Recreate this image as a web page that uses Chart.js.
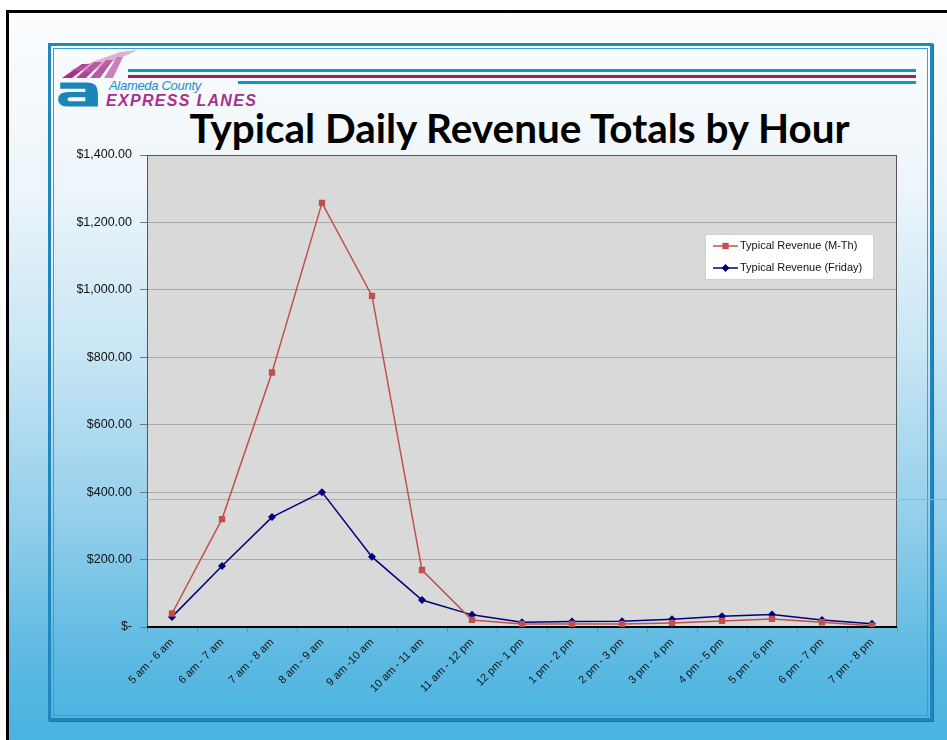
<!DOCTYPE html>
<html>
<head>
<meta charset="utf-8">
<script src="https://cdn.jsdelivr.net/npm/chart.js@4.4.1/dist/chart.umd.min.js"></script>
<style>
  html, body { margin: 0; padding: 0; }
  body { width: 947px; height: 740px; position: relative; overflow: hidden; background: #fff; font-family: "Liberation Sans", Arial, sans-serif; }
  #slide { position: absolute; left: 6px; top: 10px; width: 960px; height: 760px; border-left: 3px solid #000; border-top: 3px solid #000;
    background: linear-gradient(to bottom, #fbfdfe 0%, #eef6fb 22%, #c7e5f4 45%, #8fcdea 68%, #5cb9e2 85%, #3fb1df 100%); }
  #frame { position: absolute; left: 48px; top: 43px; width: 879px; height: 672px; border: 3px solid #1f86c0; box-shadow: 1px 1px 0 #1a75aa; }
  #frame::after { content: ""; position: absolute; left: 2px; top: 2px; right: 2px; bottom: 2px; border: 1px solid #3c9fd3; }
  .rule { position: absolute; height: 3px; }
  #logoStripes { position: absolute; left: 60px; top: 50px; width: 80px; height: 30px; }
  #logoA { position: absolute; left: 56px; top: 80px; width: 44px; height: 28px; }
  #alameda { position: absolute; left: 109px; top: 78px; font: italic 13px "Liberation Sans", Arial, sans-serif; color: #1c8dc4; letter-spacing: -0.3px; }
  #express { position: absolute; left: 106px; top: 92px; font: italic bold 16px "Liberation Sans", Arial, sans-serif; color: #a8308f; letter-spacing: 1.3px; }
  #title { position: absolute; top: 103px; left: 46px; width: 947px; text-align: center; font-weight: bold; font-family: Lato, "Open Sans", sans-serif; color: #000; white-space: nowrap; }
  #title span { display: inline-block; transform-origin: center; }
  canvas { position: absolute; left: 0; top: 0; }
</style>
</head>
<body>
<div id="slide"></div>
<div id="frame"></div>
<div class="rule" style="left:128px; top:69px; width:788px; background:#0f97c9;"></div>
<div class="rule" style="left:128px; top:75px; width:788px; background:#97235f;"></div>
<div class="rule" style="left:238px; top:81px; width:678px; background:#0f97c9;"></div>
<svg id="logoStripes" viewBox="0 0 80 30">
  <polygon points="2,28 22,14 30,14 12,28" fill="#a8308f"/>
  <polygon points="16,28 34,12 42,12 26,28" fill="#a8308f" opacity="0.9"/>
  <polygon points="30,28 46,10 53,10 40,28" fill="#a8308f" opacity="0.8"/>
  <polygon points="44,28 57,7 63,7 53,28" fill="#a8308f" opacity="0.6"/>
  <polygon points="10,20 60,2 78,0 30,22" fill="#c86aa8" opacity="0.5"/>
</svg>
<svg id="logoA" viewBox="0 0 42 26">
  <path d="M4,2 H30 Q40,2 40,12 V25 H12 Q2,25 2,18 Q2,11 12,11 H28 V8 H4 Z M14,16 Q11,16 11,18 Q11,20 14,20 H28 V16 Z" fill="#1c84b8" fill-rule="evenodd"/>
</svg>
<div id="alameda">Alameda County</div>
<div id="express">EXPRESS LANES</div>
<div id="title"><span id="titleText">Typical Daily Revenue Totals by Hour</span></div>
<canvas id="chart" width="947" height="740"></canvas>
<script>
// values
const hours = ['5 am - 6 am', '6 am - 7 am', '7 am - 8 am', '8 am - 9 am', '9 am -10 am', '10 am - 11 am',
  '11 am - 12 pm', '12 pm- 1 pm', '1 pm - 2 pm', '2 pm - 3 pm', '3 pm - 4 pm', '4 pm - 5 pm',
  '5 pm - 6 pm', '6 pm - 7 pm', '7 pm - 8 pm'];
const revenueMTh = [40, 320, 755, 1258, 982, 169, 21, 9, 9, 9, 12, 18, 24, 14, 4];
const revenueFri = [30, 181, 326, 400, 208, 80, 36, 14, 16, 17, 23, 32, 37, 21, 10];
const yTicks = [0, 200, 400, 600, 800, 1000, 1200, 1400];

// fit the title to the width seen in the reference
const titleEl = document.getElementById('titleText');
titleEl.parentElement.style.fontSize = '41px';
const w = titleEl.getBoundingClientRect().width;
titleEl.style.transform = 'scaleX(' + (660 / w) + ')';

const money = v => v === 0 ? '$-' : '$' + v.toLocaleString('en-US', { minimumFractionDigits: 2, maximumFractionDigits: 2 });

const plotArea = {
  id: 'plotArea',
  beforeDraw(chart) {
    const { ctx, chartArea: a } = chart;
    ctx.save();
    ctx.fillStyle = '#d9d9d9';
    ctx.fillRect(a.left, a.top, a.right - a.left, a.bottom - a.top);
    ctx.restore();
  },
  beforeDatasetsDraw(chart) {
    const { ctx, chartArea: a } = chart;
    ctx.save();
    ctx.strokeStyle = '#555';
    ctx.lineWidth = 1;
    ctx.strokeRect(a.left + 0.5, a.top + 0.5, a.right - a.left - 1, a.bottom - a.top);
    ctx.strokeStyle = '#000';
    ctx.lineWidth = 2;
    ctx.beginPath();
    ctx.moveTo(a.left, a.bottom);
    ctx.lineTo(a.right, a.bottom);
    ctx.stroke();
    // faint slide guide line crossing the plot
    ctx.strokeStyle = 'rgba(110,190,230,0.9)';
    ctx.lineWidth = 1;
    ctx.beginPath();
    ctx.moveTo(a.left, 499.5);
    ctx.lineTo(chart.width, 499.5);
    ctx.stroke();
    ctx.restore();
  }
};

const boxLegend = {
  id: 'boxLegend',
  afterDraw(chart) {
    const { ctx } = chart;
    const x = 705, y = 234, bw = 168, bh = 45;
    ctx.save();
    ctx.fillStyle = '#fff';
    ctx.fillRect(x, y, bw, bh);
    ctx.strokeStyle = '#d0d0d0';
    ctx.strokeRect(x + 0.5, y + 0.5, bw, bh);
    ctx.font = '11px "Liberation Sans", Arial, sans-serif';
    ctx.textBaseline = 'middle';
    chart.data.datasets.forEach((ds, i) => {
      const cy = y + 12 + i * 22;
      ctx.strokeStyle = ds.borderColor;
      ctx.lineWidth = 1.5;
      ctx.beginPath();
      ctx.moveTo(x + 8, cy);
      ctx.lineTo(x + 33, cy);
      ctx.stroke();
      ctx.fillStyle = ds.backgroundColor;
      Chart.helpers.drawPoint(ctx, { pointStyle: ds.pointStyle, radius: ds.pointRadius, borderWidth: 0 }, x + 20.5, cy);
      ctx.fillStyle = '#111';
      ctx.fillText(ds.label, x + 35, cy);
    });
    ctx.restore();
  }
};

new Chart(document.getElementById('chart'), {
  type: 'line',
  data: {
    labels: hours,
    datasets: [
      {
        label: 'Typical Revenue (M-Th)',
        data: revenueMTh,
        borderColor: '#c0504d',
        backgroundColor: '#c0504d',
        borderWidth: 1.5,
        pointStyle: 'rect',
        pointRadius: 4.5,
        pointBorderWidth: 0,
        tension: 0
      },
      {
        label: 'Typical Revenue (Friday)',
        data: revenueFri,
        borderColor: '#000080',
        backgroundColor: '#000080',
        borderWidth: 1.5,
        pointStyle: 'rectRot',
        pointRadius: 4,
        pointBorderWidth: 0,
        tension: 0
      }
    ]
  },
  options: {
    responsive: false,
    animation: false,
    layout: { padding: { left: 0, top: 155, right: 50, bottom: 0 } },
    plugins: {
      legend: { display: false },
      title: { display: false },
      tooltip: { enabled: false }
    },
    scales: {
      x: {
        offset: true,
        afterFit: s => { s.height = 113; },
        border: { display: false },
        grid: { offset: true, drawOnChartArea: false, tickLength: 5, color: '#888' },
        ticks: {
          minRotation: 45, maxRotation: 45, padding: 4,
          color: '#111',
          font: { family: '"Liberation Sans", Arial, sans-serif', size: 11 }
        }
      },
      y: {
        min: 0, max: 1400,
        afterFit: s => { s.width = 147; },
        afterBuildTicks: s => { s.ticks = yTicks.map(v => ({ value: v })); },
        border: { display: false },
        grid: { color: '#a8a8a8', tickLength: 7, tickColor: '#777' },
        ticks: {
          padding: 8,
          color: '#111',
          callback: v => money(v),
          font: { family: '"Liberation Sans", Arial, sans-serif', size: 12.5 }
        }
      }
    }
  },
  plugins: [plotArea, boxLegend]
});
</script>
</body>
</html>
